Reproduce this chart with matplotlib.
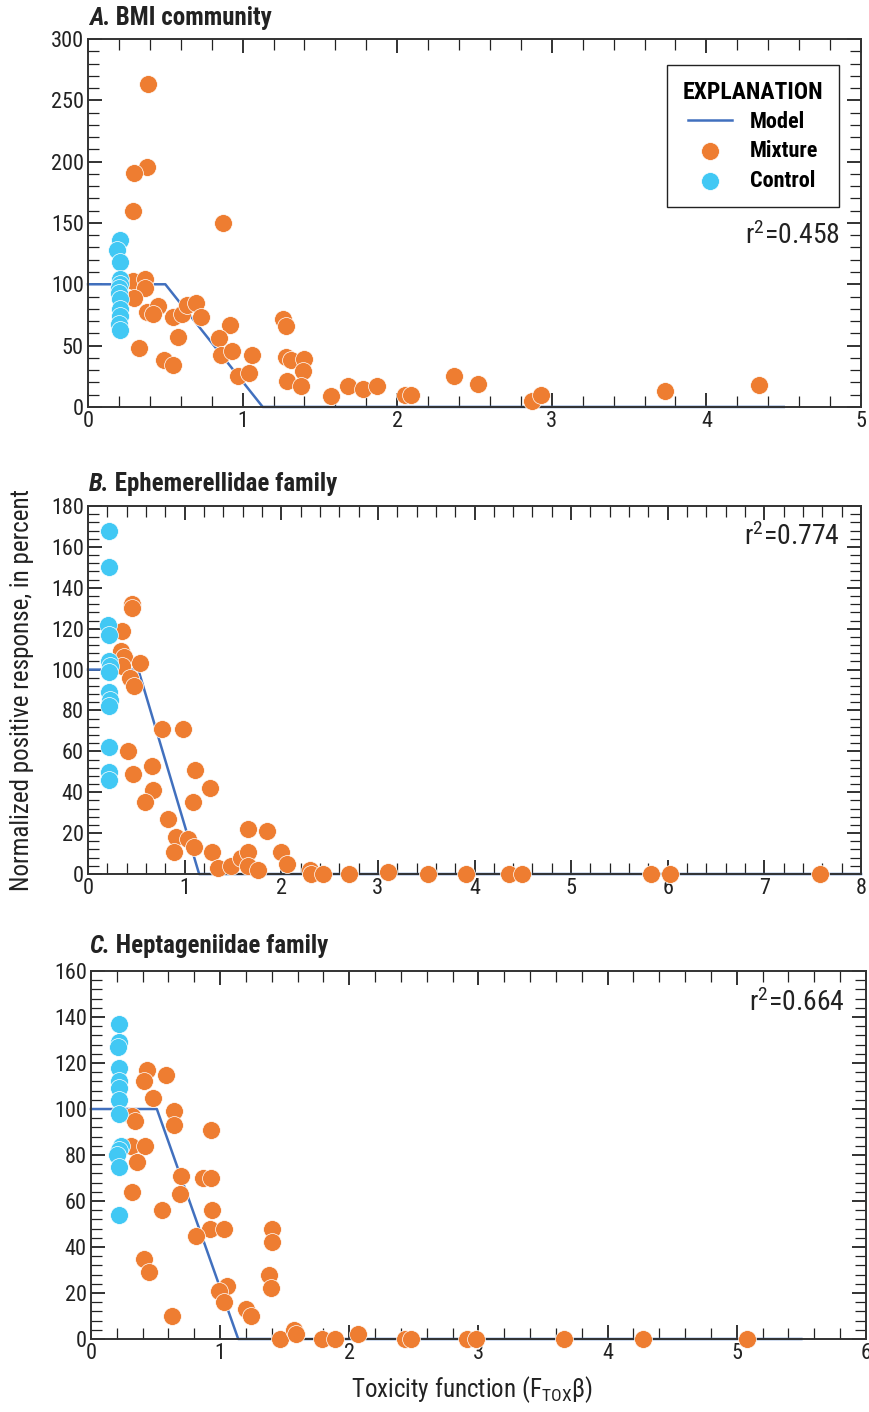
import matplotlib
matplotlib.use('Agg')
import matplotlib.pyplot as plt
from matplotlib.ticker import MultipleLocator
from matplotlib import font_manager

# condensed face if there is one, else Arial-like Liberation Sans
names = set(f.name for f in font_manager.fontManager.ttflist)
FAM = 'Liberation Sans'
for cand in ['Roboto Condensed', 'Liberation Sans Narrow', 'Open Sans Condensed', 'DejaVu Sans Condensed']:
    if cand in names:
        FAM = cand
        break

plt.rcParams['font.family'] = [FAM, 'DejaVu Sans']
plt.rcParams['mathtext.fontset'] = 'custom'
plt.rcParams['mathtext.rm'] = FAM
plt.rcParams['mathtext.it'] = FAM + ':italic'
plt.rcParams['mathtext.bf'] = FAM + ':bold'

ORANGE = '#EE7D31'
BLUE = '#41C8F4'
LINE = '#4170BE'

# --- panel A: BMI community
a_ctrl_x = [0.21, 0.19, 0.21, 0.21, 0.21, 0.20, 0.20, 0.21, 0.21, 0.21, 0.20, 0.21]
a_ctrl_y = [136, 128, 118, 104, 100, 97, 93, 88, 80, 74, 68, 63]
a_mix_x = [0.39, 0.38, 0.30, 0.29, 0.87, 0.29, 0.37, 0.37, 0.30, 0.38, 0.45, 0.42,
           0.55, 0.61, 0.64, 0.70, 0.73, 0.58, 0.33, 0.49, 0.55, 0.92, 0.85, 0.86,
           0.93, 0.97, 1.04, 1.06, 1.26, 1.28, 1.28, 1.31, 1.40, 1.39, 1.29, 1.38,
           1.57, 1.68, 1.78, 1.87, 2.05, 2.09, 2.37, 2.52, 2.87, 2.93, 3.73, 4.34]
a_mix_y = [263, 196, 191, 160, 150, 103, 104, 97, 89, 77, 82, 76,
           73, 76, 83, 85, 73, 57, 48, 38, 34, 67, 56, 42,
           46, 25, 28, 42, 72, 66, 41, 38, 39, 29, 21, 17,
           9, 17, 15, 17, 10, 10, 25, 19, 5, 10, 13, 18]
a_model_x = [0, 0.50, 1.13, 4.5]
a_model_y = [100, 100, 0, 0]

# --- panel B: Ephemerellidae family
b_ctrl_x = [0.22, 0.22, 0.21, 0.22, 0.22, 0.23, 0.22, 0.22, 0.23, 0.22, 0.22, 0.22, 0.22]
b_ctrl_y = [168, 150, 122, 117, 104, 102, 99, 89, 85, 82, 62, 50, 46]
b_mix_x = [0.46, 0.46, 0.35, 0.34, 0.37, 0.35, 0.54, 0.43, 0.48, 0.77, 0.98, 0.41,
           0.66, 0.47, 1.11, 0.67, 1.26, 0.59, 1.09, 0.83, 0.91, 1.03, 0.89, 1.10,
           1.28, 1.66, 1.85, 1.35, 1.48, 1.58, 1.66, 1.66, 1.76, 2.00, 2.06, 2.30,
           2.31, 2.43, 2.70, 3.10, 3.52, 3.91, 4.36, 4.49, 5.83, 6.02, 7.58]
b_mix_y = [132, 130, 119, 109, 106, 102, 103, 96, 92, 71, 71, 60,
           53, 49, 51, 41, 42, 35, 35, 27, 18, 17, 11, 13,
           11, 22, 21, 3, 4, 8, 11, 4, 2, 11, 5, 2,
           0, 0, 0, 1, 0, 0, 0, 0, 0, 0, 0]
b_model_x = [0, 0.52, 1.15, 8]
b_model_y = [100, 100, 0, 0]

# --- panel C: Heptageniidae family
c_ctrl_x = [0.22, 0.22, 0.21, 0.22, 0.22, 0.22, 0.22, 0.22, 0.23, 0.22, 0.20, 0.22, 0.22]
c_ctrl_y = [137, 129, 127, 118, 112, 109, 104, 98, 84, 82, 80, 75, 54]
c_mix_x = [0.43, 0.41, 0.58, 0.48, 0.32, 0.34, 0.64, 0.64, 0.93, 0.31, 0.42, 0.36,
           0.70, 0.87, 0.93, 0.69, 0.32, 0.94, 0.55, 0.92, 1.03, 0.81, 1.40, 1.40,
           0.41, 0.45, 1.38, 1.39, 0.63, 1.05, 0.99, 1.03, 1.20, 1.24, 1.46, 1.57,
           1.59, 1.79, 1.89, 2.07, 2.43, 2.48, 2.91, 2.98, 3.66, 4.27, 5.08]
c_mix_y = [117, 112, 115, 105, 97, 95, 99, 93, 91, 84, 84, 77,
           71, 70, 70, 63, 64, 56, 56, 48, 48, 45, 48, 42,
           35, 29, 28, 22, 10, 23, 21, 16, 13, 10, 0, 4,
           2, 0, 0, 2, 0, 0, 0, 0, 0, 0, 0]
c_model_x = [0, 0.51, 1.14, 5.5]
c_model_y = [100, 100, 0, 0]

fig = plt.figure(figsize=(8.69, 14.12), dpi=100)

panels = [
    dict(rect=[0.1013, 0.7118, 0.8895, 0.2606], letter='A.', name=' BMI community',
         cx=a_ctrl_x, cy=a_ctrl_y, mx=a_mix_x, my=a_mix_y, lx=a_model_x, ly=a_model_y,
         xlim=5, ylim=300, ymaj=50, ymin=10, r2='0.458', r2y=0.465, ty=0.9823),
    dict(rect=[0.1013, 0.3810, 0.8895, 0.2606], letter='B.', name=' Ephemerellidae family',
         cx=b_ctrl_x, cy=b_ctrl_y, mx=b_mix_x, my=b_mix_y, lx=b_model_x, ly=b_model_y,
         xlim=8, ylim=180, ymaj=20, ymin=4, r2='0.774', r2y=0.916, ty=0.6523),
    dict(rect=[0.1047, 0.0517, 0.8918, 0.2606], letter='C.', name=' Heptageniidae family',
         cx=c_ctrl_x, cy=c_ctrl_y, mx=c_mix_x, my=c_mix_y, lx=c_model_x, ly=c_model_y,
         xlim=6, ylim=160, ymaj=20, ymin=4, r2='0.664', r2y=0.913, ty=0.3250),
]

for i, p in enumerate(panels):
    ax = fig.add_axes(p['rect'])
    ln, = ax.plot(p['lx'], p['ly'], color=LINE, lw=1.8, zorder=2, clip_on=False)
    mx = ax.scatter(p['mx'], p['my'], s=165, color=ORANGE, edgecolors='white',
                    linewidths=0.5, zorder=3, clip_on=False)
    ct = ax.scatter(p['cx'], p['cy'], s=165, color=BLUE, edgecolors='white',
                    linewidths=0.5, zorder=4, clip_on=False)
    ax.set_xlim(0, p['xlim'])
    ax.set_ylim(0, p['ylim'])
    ax.xaxis.set_major_locator(MultipleLocator(1))
    ax.xaxis.set_minor_locator(MultipleLocator(0.2))
    ax.yaxis.set_major_locator(MultipleLocator(p['ymaj']))
    ax.yaxis.set_minor_locator(MultipleLocator(p['ymin']))
    ax.tick_params(which='both', direction='in', top=True, right=True, colors='#222222',
                   labelsize=16, pad=3)
    ax.tick_params(which='major', length=10, width=1.3)
    ax.tick_params(which='minor', length=8, width=0.9)
    for s in ax.spines.values():
        s.set_linewidth(1.4)
        s.set_color('#333333')

    t1 = fig.text(0.102, p['ty'], p['letter'], fontsize=18, fontweight='bold',
                  fontstyle='italic', va='baseline', ha='left', color='#222222')
    ax.annotate(p['name'], xy=(1, 0), xycoords=t1, va='bottom', ha='left',
                fontsize=18, fontweight='bold', color='#222222',
                annotation_clip=False)

    ax.text(0.973, p['r2y'], 'r$^2$=' + p['r2'], transform=ax.transAxes, ha='right',
            va='center', fontsize=20, color='#222222')

    if i == 0:
        leg = ax.legend([ln, mx, ct], ['Model', 'Mixture', 'Control'],
                        title='EXPLANATION', loc='upper right',
                        bbox_to_anchor=(0.9715, 0.929), borderaxespad=0,
                        frameon=True, fancybox=False,
                        edgecolor='#222222', framealpha=1, borderpad=0.7,
                        handlelength=2.0, handletextpad=0.8, labelspacing=0.33,
                        prop={'size': 16, 'weight': 'bold'})
        leg.get_title().set_fontsize(17)
        leg.get_title().set_fontweight('bold')
        leg.get_frame().set_linewidth(1.0)

fig.text(0.025, 0.511, 'Normalized positive response, in percent', rotation=90,
         ha='center', va='center', fontsize=18, color='#222222')
fig.text(0.543, 0.0156, r'Toxicity function (F$_{\mathrm{TOX}}$β)', ha='center',
         va='center', fontsize=18, color='#222222')

fig.savefig('out.png', dpi=100)
